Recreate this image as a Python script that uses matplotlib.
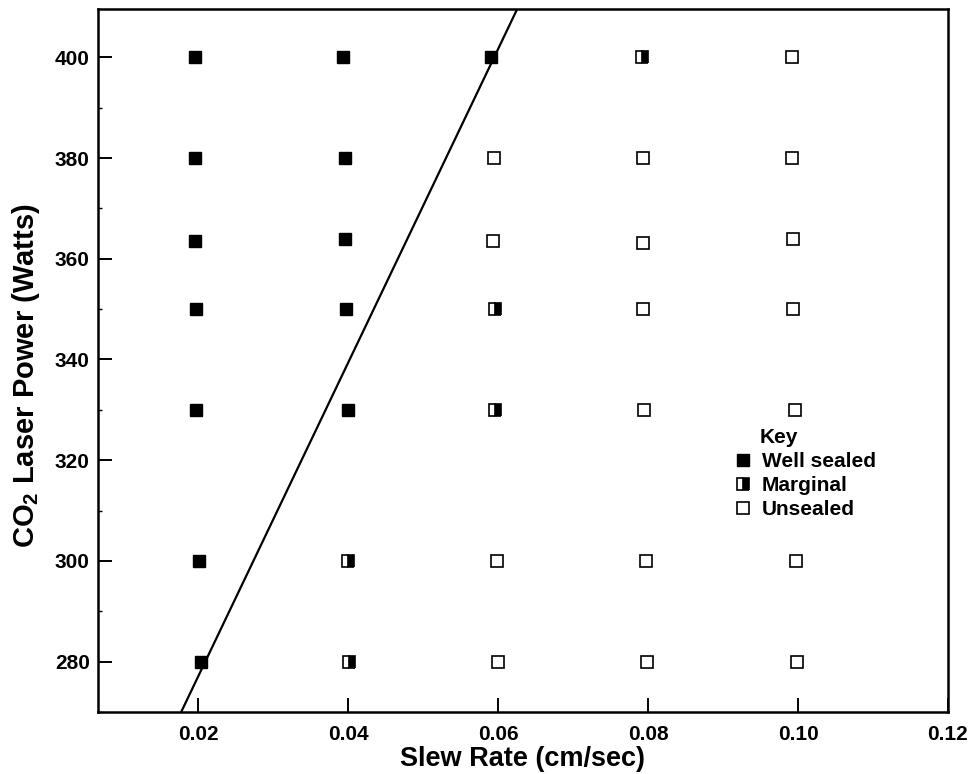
import matplotlib
matplotlib.use("Agg")
import matplotlib.pyplot as plt
from matplotlib.lines import Line2D
from matplotlib.ticker import MultipleLocator

plt.rcParams["font.family"] = ["Liberation Sans", "DejaVu Sans"]
plt.rcParams["font.weight"] = "bold"
plt.rcParams["mathtext.fontset"] = "custom"
plt.rcParams["mathtext.bf"] = "Liberation Sans:bold"
plt.rcParams["mathtext.rm"] = "Liberation Sans:bold"

# slew rate (cm/sec) and laser power (W)
well_x = [0.0195, 0.0195, 0.0196, 0.0197, 0.0197, 0.0201, 0.0203,
          0.0393, 0.0395, 0.0396, 0.0397, 0.0399, 0.0591]
well_y = [400, 380, 363.6, 350, 330, 300, 280,
          400, 380, 364, 350, 330, 400]

marginal_x = [0.0400, 0.0401, 0.0596, 0.0596, 0.0792]
marginal_y = [300, 280, 350, 330, 400]

unsealed_x = [0.0595, 0.0593, 0.0599, 0.0600,
              0.0793, 0.0793, 0.0793, 0.0795, 0.0797, 0.0799,
              0.0992, 0.0992, 0.0993, 0.0993, 0.0996, 0.0997, 0.0999]
unsealed_y = [380, 363.6, 300, 280,
              380, 363.2, 350, 330, 300, 280,
              400, 380, 364, 350, 330, 300, 280]

# boundary line between sealed / unsealed regions
line_x = [0.0177, 0.0625]
line_y = [270, 409.5]

x_ticks = [0.02, 0.04, 0.06, 0.08, 0.10, 0.12]
x_labels = ["0.02", "0.04", "0.06", "0.08", "0.10", "0.12"]
y_ticks = [280, 300, 320, 340, 360, 380, 400]

fig = plt.figure(figsize=(9.71, 7.74), dpi=100)
ax = fig.add_axes([0.1009, 0.0801, 0.8754, 0.9083])

ax.plot(line_x, line_y, color="black", lw=1.6, zorder=2)

ms = 9
ax.plot(well_x, well_y, ls="none", marker="s", ms=ms, mfc="black",
        mec="black", mew=1.0, zorder=3)
ax.plot(marginal_x, marginal_y, ls="none", marker="s", ms=ms,
        fillstyle="right", mfc="black", mfcalt="white", mec="black",
        mew=1.2, zorder=3)
ax.plot(unsealed_x, unsealed_y, ls="none", marker="s", ms=ms - 0.5,
        mfc="white", mec="black", mew=1.2, zorder=3)

ax.set_xlim(0.0066, 0.12)
ax.set_ylim(270, 409.6)

ax.set_xticks(x_ticks)
ax.set_xticklabels(x_labels)
ax.set_yticks(y_ticks)
ax.yaxis.set_minor_locator(MultipleLocator(10))

ax.tick_params(axis="both", which="major", direction="in", length=10,
               width=1.4, labelsize=15, pad=6)
ax.tick_params(axis="x", which="major", pad=9)
ax.tick_params(axis="y", which="minor", direction="in", length=3, width=1.0)
ax.tick_params(axis="x", which="minor", bottom=False)
for lab in ax.get_xticklabels() + ax.get_yticklabels():
    lab.set_fontweight("bold")

for sp in ax.spines.values():
    sp.set_linewidth(1.8)

ax.set_xlabel("Slew Rate (cm/sec)", fontsize=19.5, fontweight="bold",
              labelpad=2)
ax.set_ylabel(r"CO$\mathbf{_2}$ Laser Power (Watts)", fontsize=21,
              fontweight="bold")
ax.yaxis.set_label_coords(-0.066, 0.479)

handles = [
    Line2D([], [], ls="none", marker="s", ms=ms, mfc="black", mec="black"),
    Line2D([], [], ls="none", marker="s", ms=ms, fillstyle="right",
           mfc="black", mfcalt="white", mec="black", mew=1.2),
    Line2D([], [], ls="none", marker="s", ms=ms - 0.5, mfc="white",
           mec="black", mew=1.2),
]
ax.legend(handles, ["Well sealed", "Marginal", "Unsealed"],
          loc="upper left", bbox_to_anchor=(0.748, 0.370), frameon=False,
          borderpad=0, borderaxespad=0, handlelength=0.9, handletextpad=0.45,
          labelspacing=0.25, prop={"size": 15, "weight": "bold"})
ax.text(0.778, 0.390, "Key", transform=ax.transAxes, fontsize=15,
        fontweight="bold", va="center", ha="left")

fig.savefig("out.png", dpi=100)
